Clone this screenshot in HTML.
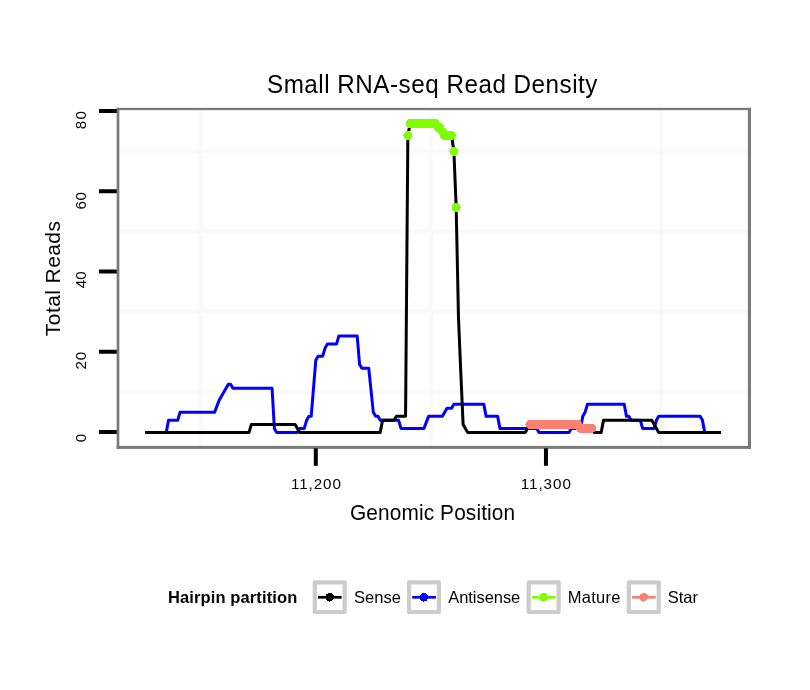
<!DOCTYPE html>
<html><head><meta charset="utf-8"><style>
html,body{margin:0;padding:0;background:#fff;}
svg{display:block;font-family:"Liberation Sans",sans-serif;}
</style></head><body>
<svg width="810" height="690" viewBox="0 0 810 690">
<rect width="810" height="690" fill="#fff"/>
<line x1="118" x2="749" y1="391.88" y2="391.88" stroke="#fafafa" stroke-width="4.5"/>
<line x1="118" x2="749" y1="311.62" y2="311.62" stroke="#fafafa" stroke-width="4.5"/>
<line x1="118" x2="749" y1="231.38" y2="231.38" stroke="#fafafa" stroke-width="4.5"/>
<line x1="118" x2="749" y1="151.12" y2="151.12" stroke="#fafafa" stroke-width="4.5"/>
<line y1="109" y2="447" x1="200.73" x2="200.73" stroke="#fafafa" stroke-width="4.5"/>
<line y1="109" y2="447" x1="430.88" x2="430.88" stroke="#fafafa" stroke-width="4.5"/>
<line y1="109" y2="447" x1="661.02" x2="661.02" stroke="#fafafa" stroke-width="4.5"/>
<polyline points="145.03,432.40 166.20,432.40 168.50,420.36 177.71,420.36 180.01,412.34 214.53,412.34 219.14,400.30 228.34,384.25 230.64,384.25 232.95,388.26 272.07,388.26 274.37,428.39 276.67,432.40 297.39,432.40 299.69,428.39 304.29,428.39 306.59,420.36 308.90,416.35 311.20,416.35 315.80,360.17 318.10,356.16 322.70,356.16 325.01,348.14 327.31,344.12 336.51,344.12 338.81,336.10 357.23,336.10 359.53,364.19 361.83,368.20 368.73,368.20 373.34,412.34 375.64,416.35 377.94,416.35 380.24,420.36 398.65,420.36 400.96,428.39 423.97,428.39 428.57,416.35 442.38,416.35 446.99,408.32 451.59,408.32 453.89,404.31 483.81,404.31 486.11,416.35 497.62,416.35 499.92,428.39 536.74,428.39 539.05,432.40 568.97,432.40 571.27,428.39 580.47,428.39 582.77,416.35 585.08,412.34 587.38,404.31 624.20,404.31 626.50,416.35 628.80,416.35 631.11,420.36 640.31,420.36 642.61,428.39 654.12,428.39 656.42,420.36 658.72,416.35 700.15,416.35 702.45,420.36 704.75,432.40 720.86,432.40" fill="none" stroke="#0000ff" stroke-width="3" stroke-linejoin="round"/>
<polyline points="145.03,432.40 249.06,432.40 251.36,424.38 295.09,424.38 299.69,432.40 380.24,432.40 382.54,420.36 394.05,420.36 396.35,416.35 405.56,416.35 407.86,135.47 410.16,123.44 435.48,123.44 437.78,127.45 440.08,127.45 442.38,131.46 444.68,135.47 451.59,135.47 453.89,151.52 456.19,207.70 458.49,318.04 460.79,372.21 463.10,424.38 467.70,432.40 525.24,432.40 527.54,428.39 529.84,424.38 578.17,424.38 580.47,428.39 591.98,428.39 594.28,432.40 601.19,432.40 603.49,420.36 651.82,420.36 658.72,432.40 720.86,432.40" fill="none" stroke="#000" stroke-width="3" stroke-linejoin="round"/>
<circle cx="407.86" cy="135.47" r="4.4" fill="#7fff00" shape-rendering="crispEdges"/>
<circle cx="410.16" cy="123.44" r="4.4" fill="#7fff00" shape-rendering="crispEdges"/>
<circle cx="412.46" cy="123.44" r="4.4" fill="#7fff00" shape-rendering="crispEdges"/>
<circle cx="414.76" cy="123.44" r="4.4" fill="#7fff00" shape-rendering="crispEdges"/>
<circle cx="417.07" cy="123.44" r="4.4" fill="#7fff00" shape-rendering="crispEdges"/>
<circle cx="419.37" cy="123.44" r="4.4" fill="#7fff00" shape-rendering="crispEdges"/>
<circle cx="421.67" cy="123.44" r="4.4" fill="#7fff00" shape-rendering="crispEdges"/>
<circle cx="423.97" cy="123.44" r="4.4" fill="#7fff00" shape-rendering="crispEdges"/>
<circle cx="426.27" cy="123.44" r="4.4" fill="#7fff00" shape-rendering="crispEdges"/>
<circle cx="428.57" cy="123.44" r="4.4" fill="#7fff00" shape-rendering="crispEdges"/>
<circle cx="430.88" cy="123.44" r="4.4" fill="#7fff00" shape-rendering="crispEdges"/>
<circle cx="433.18" cy="123.44" r="4.4" fill="#7fff00" shape-rendering="crispEdges"/>
<circle cx="435.48" cy="123.44" r="4.4" fill="#7fff00" shape-rendering="crispEdges"/>
<circle cx="437.78" cy="127.45" r="4.4" fill="#7fff00" shape-rendering="crispEdges"/>
<circle cx="440.08" cy="127.45" r="4.4" fill="#7fff00" shape-rendering="crispEdges"/>
<circle cx="442.38" cy="131.46" r="4.4" fill="#7fff00" shape-rendering="crispEdges"/>
<circle cx="444.68" cy="135.47" r="4.4" fill="#7fff00" shape-rendering="crispEdges"/>
<circle cx="446.99" cy="135.47" r="4.4" fill="#7fff00" shape-rendering="crispEdges"/>
<circle cx="449.29" cy="135.47" r="4.4" fill="#7fff00" shape-rendering="crispEdges"/>
<circle cx="451.59" cy="135.47" r="4.4" fill="#7fff00" shape-rendering="crispEdges"/>
<circle cx="453.89" cy="151.52" r="4.4" fill="#7fff00" shape-rendering="crispEdges"/>
<circle cx="456.19" cy="207.70" r="4.4" fill="#7fff00" shape-rendering="crispEdges"/>
<circle cx="529.84" cy="424.38" r="4.4" fill="#fa8072" shape-rendering="crispEdges"/>
<circle cx="532.14" cy="424.38" r="4.4" fill="#fa8072" shape-rendering="crispEdges"/>
<circle cx="534.44" cy="424.38" r="4.4" fill="#fa8072" shape-rendering="crispEdges"/>
<circle cx="536.74" cy="424.38" r="4.4" fill="#fa8072" shape-rendering="crispEdges"/>
<circle cx="539.05" cy="424.38" r="4.4" fill="#fa8072" shape-rendering="crispEdges"/>
<circle cx="541.35" cy="424.38" r="4.4" fill="#fa8072" shape-rendering="crispEdges"/>
<circle cx="543.65" cy="424.38" r="4.4" fill="#fa8072" shape-rendering="crispEdges"/>
<circle cx="545.95" cy="424.38" r="4.4" fill="#fa8072" shape-rendering="crispEdges"/>
<circle cx="548.25" cy="424.38" r="4.4" fill="#fa8072" shape-rendering="crispEdges"/>
<circle cx="550.55" cy="424.38" r="4.4" fill="#fa8072" shape-rendering="crispEdges"/>
<circle cx="552.85" cy="424.38" r="4.4" fill="#fa8072" shape-rendering="crispEdges"/>
<circle cx="555.16" cy="424.38" r="4.4" fill="#fa8072" shape-rendering="crispEdges"/>
<circle cx="557.46" cy="424.38" r="4.4" fill="#fa8072" shape-rendering="crispEdges"/>
<circle cx="559.76" cy="424.38" r="4.4" fill="#fa8072" shape-rendering="crispEdges"/>
<circle cx="562.06" cy="424.38" r="4.4" fill="#fa8072" shape-rendering="crispEdges"/>
<circle cx="564.36" cy="424.38" r="4.4" fill="#fa8072" shape-rendering="crispEdges"/>
<circle cx="566.66" cy="424.38" r="4.4" fill="#fa8072" shape-rendering="crispEdges"/>
<circle cx="568.97" cy="424.38" r="4.4" fill="#fa8072" shape-rendering="crispEdges"/>
<circle cx="571.27" cy="424.38" r="4.4" fill="#fa8072" shape-rendering="crispEdges"/>
<circle cx="573.57" cy="424.38" r="4.4" fill="#fa8072" shape-rendering="crispEdges"/>
<circle cx="575.87" cy="424.38" r="4.4" fill="#fa8072" shape-rendering="crispEdges"/>
<circle cx="578.17" cy="424.38" r="4.4" fill="#fa8072" shape-rendering="crispEdges"/>
<circle cx="580.47" cy="428.39" r="4.4" fill="#fa8072" shape-rendering="crispEdges"/>
<circle cx="582.77" cy="428.39" r="4.4" fill="#fa8072" shape-rendering="crispEdges"/>
<circle cx="585.08" cy="428.39" r="4.4" fill="#fa8072" shape-rendering="crispEdges"/>
<circle cx="587.38" cy="428.39" r="4.4" fill="#fa8072" shape-rendering="crispEdges"/>
<circle cx="589.68" cy="428.39" r="4.4" fill="#fa8072" shape-rendering="crispEdges"/>
<circle cx="591.98" cy="428.39" r="4.4" fill="#fa8072" shape-rendering="crispEdges"/>
<rect x="116.65" y="107.85" width="634.35" height="2.3" fill="#7a7a7a"/>
<rect x="116.65" y="107.85" width="2.7" height="341" fill="#7a7a7a"/>
<rect x="747.9" y="107.85" width="3.1" height="341" fill="#7a7a7a"/>
<rect x="116.65" y="445.9" width="634.35" height="3.0" fill="#7a7a7a"/>
<line x1="99" x2="116.8" y1="432.00" y2="432.00" stroke="#000" stroke-width="4"/>
<line x1="99" x2="116.8" y1="351.75" y2="351.75" stroke="#000" stroke-width="4"/>
<line x1="99" x2="116.8" y1="271.50" y2="271.50" stroke="#000" stroke-width="4"/>
<line x1="99" x2="116.8" y1="191.25" y2="191.25" stroke="#000" stroke-width="4"/>
<line x1="99" x2="116.8" y1="111.00" y2="111.00" stroke="#000" stroke-width="4"/>
<line x1="315.80" x2="315.80" y1="448.3" y2="465.8" stroke="#000" stroke-width="4"/>
<line x1="545.95" x2="545.95" y1="448.3" y2="465.8" stroke="#000" stroke-width="4"/>
<rect x="314.80" y="582.3" width="29.9" height="29.7" fill="#fff" stroke="#cccccc" stroke-width="4.2" stroke-linejoin="round"/>
<line x1="318.00" x2="341.70" y1="597.3" y2="597.3" stroke="#000000" stroke-width="2.7"/>
<circle cx="329.70" cy="597.3" r="4.3" fill="#000000" shape-rendering="crispEdges"/>
<rect x="409.00" y="582.3" width="29.9" height="29.7" fill="#fff" stroke="#cccccc" stroke-width="4.2" stroke-linejoin="round"/>
<line x1="412.20" x2="435.90" y1="597.3" y2="597.3" stroke="#0000ff" stroke-width="2.7"/>
<circle cx="423.90" cy="597.3" r="4.3" fill="#0000ff" shape-rendering="crispEdges"/>
<rect x="528.70" y="582.3" width="29.9" height="29.7" fill="#fff" stroke="#cccccc" stroke-width="4.2" stroke-linejoin="round"/>
<line x1="531.90" x2="555.60" y1="597.3" y2="597.3" stroke="#7fff00" stroke-width="2.7"/>
<circle cx="543.60" cy="597.3" r="4.3" fill="#7fff00" shape-rendering="crispEdges"/>
<rect x="628.80" y="582.3" width="29.9" height="29.7" fill="#fff" stroke="#cccccc" stroke-width="4.2" stroke-linejoin="round"/>
<line x1="632.00" x2="655.70" y1="597.3" y2="597.3" stroke="#fa8072" stroke-width="2.7"/>
<circle cx="643.70" cy="597.3" r="4.3" fill="#fa8072" shape-rendering="crispEdges"/>
<g opacity="0.999">
<text transform="translate(86.00,442.27) rotate(-90)" font-size="15.2">0</text>
<text transform="translate(86.00,369.47) rotate(-90)" font-size="15.2" letter-spacing="0.743">20</text>
<text transform="translate(86.00,288.33) rotate(-90)" font-size="15.2" letter-spacing="0.129">40</text>
<text transform="translate(86.00,209.56) rotate(-90)" font-size="15.2" letter-spacing="0.716">60</text>
<text transform="translate(86.00,129.25) rotate(-90)" font-size="15.2" letter-spacing="1.398">80</text>
<text transform="translate(291.00,488.90)" font-size="15.2" letter-spacing="0.911">11,200</text>
<text transform="translate(520.69,488.90)" font-size="15.2" letter-spacing="0.973">11,300</text>
<text transform="translate(266.98,93.20) scale(0.9700,1)" font-size="25" letter-spacing="0.522">Small RNA-seq Read Density</text>
<text transform="translate(350.00,520.30) scale(0.9700,1)" font-size="21.5" letter-spacing="0.126">Genomic Position</text>
<text transform="translate(60.00,336.14) rotate(-90)" font-size="21" letter-spacing="0.421">Total Reads</text>
<text transform="translate(168.00,602.90)" font-size="16.5" font-weight="bold" letter-spacing="0.112">Hairpin partition</text>
<text transform="translate(354.02,602.80)" font-size="16.5" letter-spacing="0.002">Sense</text>
<text transform="translate(448.24,602.80)" font-size="16.5" letter-spacing="-0.057">Antisense</text>
<text transform="translate(567.72,602.80)" font-size="16.5" letter-spacing="0.247">Mature</text>
<text transform="translate(667.86,602.80)" font-size="16.5" letter-spacing="-0.070">Star</text>
</g>
</svg>
</body></html>
